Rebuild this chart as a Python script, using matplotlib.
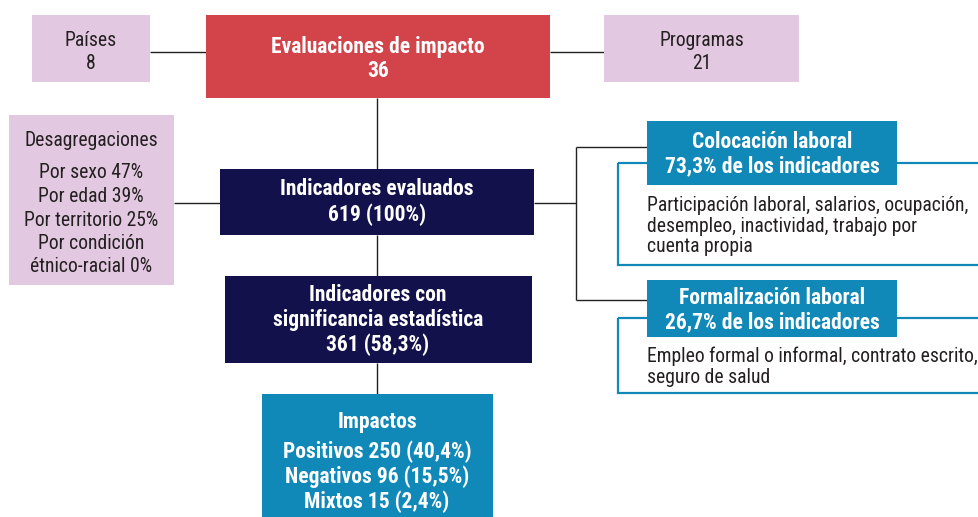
import matplotlib
matplotlib.use("Agg")
import matplotlib.pyplot as plt
from matplotlib.patches import Rectangle

# ---- data ----
paises = 8
programas = 21
evaluaciones = 36
indicadores = 619
significativos = 361
significativos_pct = 58.3
desag_labels = ["Por sexo", "Por edad", "Por territorio", "Por condición\nétnico-racial"]
desag_pct = [47, 39, 25, 0]
impacto_labels = ["Positivos", "Negativos", "Mixtos"]
impacto_n = [250, 96, 15]
impacto_pct = [40.4, 15.5, 2.4]
areas = ["Colocación laboral", "Formalización laboral"]
areas_pct = [73.3, 26.7]
areas_desc = ["Participación laboral, salarios, ocupación,\ndesempleo, inactividad, trabajo por\ncuenta propia",
              "Empleo formal o informal, contrato escrito,\nseguro de salud"]

def c(v):
    return f"{v:.1f}".replace(".", ",")

RED = "#D2444A"
NAVY = "#12114B"
BLUE = "#1189B8"
PINK = "#E2C8E0"
LINE = "#222222"
TXT = "#231F20"
FONT = ["Roboto Condensed", "Roboto", "DejaVu Sans"]
BSZ = 15.5
RSZ = 14.1

fig = plt.figure(figsize=(9.79, 5.17), dpi=100)
ax = fig.add_axes([0, 0, 1, 1])
ax.set_xlim(0, 979)
ax.set_ylim(517, 0)
ax.axis("off")

def box(x0, y0, x1, y1, color, z=2):
    ax.add_patch(Rectangle((x0, y0), x1 - x0, y1 - y0, facecolor=color, edgecolor="none", zorder=z))

def txt(x, y, s, color="white", bold=False, size=BSZ, ha="center", ls=1.16):
    ax.text(x, y, s, color=color, fontweight="bold" if bold else "normal", fontsize=size,
            ha=ha, va="center", family=FONT, linespacing=ls, zorder=5)

def line(xs, ys):
    ax.plot(xs, ys, color=LINE, lw=1.0, zorder=1, solid_capstyle="butt")

# connectors
line([150, 206], [52, 52])
line([550, 604], [52, 52])
line([377, 377], [98, 169])
line([377, 377], [235, 276])
line([377, 377], [363, 394])
line([174, 220], [203, 203])
line([534, 576], [203, 203])
line([576, 576], [147, 300])
line([576, 647], [147, 147])
line([576, 647], [300, 300])

# top row
box(32, 15, 150, 82, PINK)
txt(91, 52, f"Países\n{paises}", color=TXT, size=RSZ, ls=1.23)
box(206, 15, 550, 98, RED)
txt(378, 59, f"Evaluaciones de impacto\n{evaluaciones}", bold=True)
box(604, 15, 799, 82, PINK)
txt(702, 52, f"Programas\n{programas}", color=TXT, size=RSZ, ls=1.23)

# disaggregations
box(9, 115, 174, 285, PINK)
txt(91, 140, "Desagregaciones", color=TXT, size=RSZ)
dlines = [f"{l} {p}%" for l, p in zip(desag_labels, desag_pct)]
txt(91, 220, "\n".join(dlines), color=TXT, size=RSZ, ls=1.3)

# central
box(220, 169, 534, 235, NAVY)
txt(377, 202, f"Indicadores evaluados\n{indicadores} (100%)", bold=True)
box(225, 276, 532, 363, NAVY)
txt(378, 320, f"Indicadores con\nsignificancia estadística\n{significativos} ({c(significativos_pct)}%)", bold=True)
box(262, 394, 493, 520, BLUE)
txt(377, 422, "Impactos", bold=True)
ilines = [f"{l} {n} ({c(p)}%)" for l, n, p in zip(impacto_labels, impacto_n, impacto_pct)]
txt(377, 477, "\n".join(ilines), bold=True, ls=1.13)

# right side
hdr = [(121, 185), (280, 337)]
outl = [(163, 265), (318, 393)]
desc_y = [226, 367]
for i in range(2):
    ax.add_patch(Rectangle((618, outl[i][0]), 400, outl[i][1] - outl[i][0], facecolor="none",
                           edgecolor=BLUE, lw=1.6, zorder=2, clip_on=True))
    box(647, hdr[i][0], 897, hdr[i][1], BLUE, z=3)
    txt(772, (hdr[i][0] + hdr[i][1]) / 2 + 1.5, f"{areas[i]}\n{c(areas_pct[i])}% de los indicadores",
        bold=True, ls=1.13)
    txt(647, desc_y[i], areas_desc[i], color=TXT, size=RSZ, ha="left", ls=1.12)

fig.savefig("out.png", dpi=100)
